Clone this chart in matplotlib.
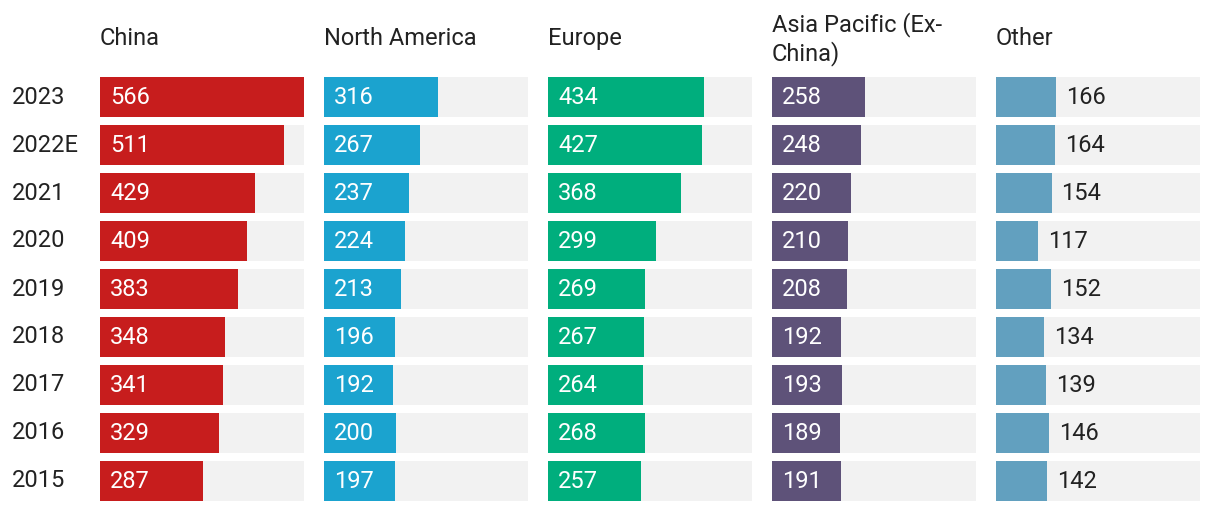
import numpy as np
import matplotlib.pyplot as plt

years = ["2023", "2022E", "2021", "2020", "2019", "2018", "2017", "2016", "2015"]
regions = ["China", "North America", "Europe", "Asia Pacific (Ex-\nChina)", "Other"]
china = [566, 511, 429, 409, 383, 348, 341, 329, 287]
north_america = [316, 267, 237, 224, 213, 196, 192, 200, 197]
europe = [434, 427, 368, 299, 269, 267, 264, 268, 257]
asia_pacific = [258, 248, 220, 210, 208, 192, 193, 189, 191]
other = [166, 164, 154, 117, 152, 134, 139, 146, 142]

colors = ["#C71D1D", "#1BA3CF", "#00AE7D", "#5E5279", "#62A0BF"]
series = [china, north_america, europe, asia_pacific, other]

plt.rcParams['font.family'] = ['Roboto', 'DejaVu Sans']

W, H = 1220, 510
fig = plt.figure(figsize=(W / 100, H / 100), dpi=100)

vmax = max(china)
n = len(years)
ypos = np.arange(n)[::-1]
bh = 40 / 48

for i, (name, vals, col) in enumerate(zip(regions, series, colors)):
    left = 100 + 224 * i
    ax = fig.add_axes([left / W, 8 / H, 204 / W, 424 / H])
    ax.barh(ypos, [vmax] * n, height=bh, color="#F2F2F2")
    ax.barh(ypos, vals, height=bh, color=col)
    ax.set_xlim(0, vmax)
    ax.set_ylim(-bh / 2, n - 1 + bh / 2)
    ax.axis("off")
    px = vmax / 204  # data units per pixel
    inside = i < len(regions) - 1
    for y, v in zip(ypos, vals):
        if inside:
            ax.text(10 * px, y, str(v), color="white", fontsize=17,
                    va="center", ha="left")
        else:
            ax.text(v + 10 * px, y, str(v), color="#222222", fontsize=17,
                    va="center", ha="left")
    fig.text(left / W, 1 - 39 / H, name, fontsize=17, color="#222222",
             va="center", ha="left", linespacing=1.2)

for k, yr in enumerate(years):
    fig.text(12 / W, 1 - (97 + k * 48) / H, yr, fontsize=17,
             color="#222222", va="center", ha="left")

fig.savefig("out.png", dpi=100, facecolor="white")
